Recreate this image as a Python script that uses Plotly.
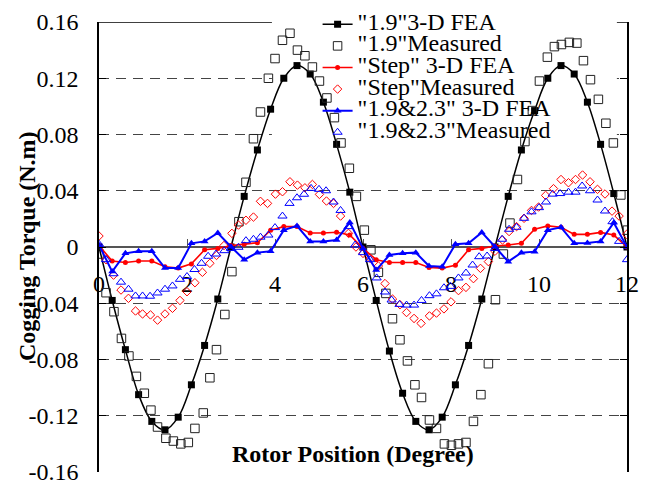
import plotly.graph_objects as go

# ---------------- data ----------------
x_fea = [0.0, 0.3, 0.6, 0.9, 1.2, 1.5, 1.8, 2.1, 2.4, 2.7,
         3.0, 3.3, 3.6, 3.9, 4.2, 4.5, 4.8, 5.1, 5.4, 5.7,
         6.0, 6.3, 6.6, 6.9, 7.2, 7.5, 7.8, 8.1, 8.4, 8.7,
         9.0, 9.3, 9.6, 9.9, 10.2, 10.5, 10.8, 11.1, 11.4, 11.7, 12.0]

fea_19 = [0.0, -0.038, -0.073, -0.105, -0.124, -0.130, -0.121, -0.098, -0.070, -0.037,
          0.0, 0.036, 0.069, 0.098, 0.120, 0.129, 0.123, 0.103, 0.073, 0.039,
          0.0, -0.038, -0.074, -0.104, -0.124, -0.130, -0.121, -0.098, -0.070, -0.037,
          0.0, 0.036, 0.069, 0.097, 0.120, 0.129, 0.123, 0.103, 0.073, 0.038, 0.0]

fea_step = [0.001, -0.010, -0.011, -0.010, -0.010, -0.014, -0.015, -0.012, -0.002, -0.001,
            0.001, 0.002, 0.003, 0.012, 0.0145, 0.0145, 0.010, 0.010, 0.0105, 0.0085,
            -0.001, -0.009, -0.011, -0.011, -0.011, -0.0145, -0.015, -0.013, -0.002, -0.001,
            0.0007, 0.0014, 0.0026, 0.0126, 0.015, 0.014, 0.009, 0.009, 0.0104, 0.0085, 0.0]

fea_1923 = [0.0014, -0.0175, -0.0045, -0.003, -0.003, -0.015, -0.015, 0.0026, 0.004, 0.010,
            0.0002, -0.009, -0.004, -0.003, 0.012, 0.015, 0.004, 0.004, 0.005, 0.0175,
            -0.001, -0.0164, -0.0057, -0.0045, -0.004, -0.0135, -0.014, 0.002, 0.0026, 0.0104,
            0.0002, -0.0104, -0.004, -0.0033, 0.012, 0.014, 0.0026, 0.0028, 0.004, 0.0173, 0.0]

x_meas_19 = [0.0, 0.16, 0.34, 0.51, 0.68, 0.85, 1.03, 1.18, 1.33, 1.52,
             1.69, 1.86, 2.03, 2.18, 2.37, 2.52, 2.67, 2.86, 3.02, 3.18,
             3.34, 3.51, 3.67, 3.85, 4.0, 4.17, 4.34, 4.51, 4.68, 4.85,
             5.01, 5.18, 5.35, 5.5, 5.69, 5.85, 6.03, 6.18, 6.35, 6.52,
             6.67, 6.84, 7.01, 7.18, 7.33, 7.51, 7.67, 7.85, 8.01, 8.17,
             8.34, 8.51, 8.68, 8.85, 9.01, 9.19, 9.34, 9.51, 9.68, 9.85,
             10.01, 10.19, 10.35, 10.51, 10.69, 10.86, 11.01, 11.17, 11.35, 11.52,
             11.69, 11.86, 12.01]
meas_19 = [-0.005, -0.0325, -0.046, -0.065, -0.0775, -0.092, -0.104, -0.116, -0.128, -0.136,
           -0.138, -0.140, -0.139, -0.129, -0.118, -0.093, -0.073, -0.048, -0.0175, 0.018,
           0.046, 0.077, 0.096, 0.120, 0.134, 0.147, 0.152, 0.140, 0.136, 0.128,
           0.118, 0.106, 0.092, 0.074, 0.056, 0.036, 0.012, -0.002, -0.018, -0.033,
           -0.051, -0.066, -0.081, -0.098, -0.107, -0.123, -0.129, -0.140, -0.141, -0.140,
           -0.139, -0.124, -0.105, -0.083, -0.0375, -0.005, 0.017, 0.048, 0.075, 0.097,
           0.118, 0.135, 0.1425, 0.144, 0.1455, 0.145, 0.1325, 0.119, 0.105, 0.088,
           0.074, 0.037, 0.012]

x_meas_step = [0.0, 0.16, 0.33, 0.5, 0.67, 0.83, 0.99, 1.17, 1.33, 1.5,
               1.67, 1.84, 2.0, 2.18, 2.35, 2.52, 2.67, 2.84, 3.02, 3.17,
               3.34, 3.51, 3.67, 3.83, 4.01, 4.17, 4.34, 4.51, 4.68, 4.85,
               5.01, 5.17, 5.33, 5.49, 5.67, 5.84, 6.0, 6.16, 6.35, 6.5,
               6.67, 6.84, 6.99, 7.16, 7.32, 7.51, 7.67, 7.84, 8.0, 8.17,
               8.34, 8.51, 8.67, 8.85, 9.0, 9.17, 9.32, 9.49, 9.66, 9.83,
               9.99, 10.15, 10.33, 10.5, 10.67, 10.83, 10.99, 11.16, 11.33, 11.5,
               11.66, 11.82, 11.99]
meas_step = [0.0078, -0.009, -0.020, -0.0306, -0.0365, -0.0455, -0.0476, -0.0483, -0.052, -0.0476,
             -0.0436, -0.038, -0.0318, -0.0254, -0.018, -0.0116, -0.006, 0.001, 0.0097, 0.0156,
             0.019, 0.0213, 0.0325, 0.031, 0.0376, 0.0393, 0.0464, 0.044, 0.0421, 0.0445,
             0.0374, 0.0327, 0.031, 0.022, 0.0097, 0.0, -0.0045, -0.008, -0.0135, -0.026,
             -0.037, -0.041, -0.0466, -0.0508, -0.0543, -0.049, -0.047, -0.044, -0.039, -0.031,
             -0.0287, -0.0225, -0.0152, -0.0104, -0.003, 0.005, 0.011, 0.0145, 0.0204, 0.026,
             0.0284, 0.0367, 0.0415, 0.048, 0.0457, 0.048, 0.0512, 0.0464, 0.041, 0.0377,
             0.0255, 0.022, 0.009]

x_meas_1923 = [0.0, 0.16, 0.33, 0.5, 0.67, 0.83, 0.99, 1.16, 1.33, 1.5,
               1.67, 1.84, 2.0, 2.17, 2.33, 2.48, 2.66, 2.85, 3.0, 3.17,
               3.34, 3.51, 3.67, 3.85, 4.0, 4.17, 4.33, 4.5, 4.66, 4.82,
               5.0, 5.16, 5.33, 5.49, 5.67, 5.82, 6.0, 6.16, 6.31, 6.5,
               6.65, 6.83, 6.99, 7.16, 7.33, 7.51, 7.67, 7.84, 7.99, 8.17,
               8.34, 8.49, 8.64, 8.82, 9.0, 9.16, 9.32, 9.49, 9.66, 9.83,
               10.0, 10.16, 10.31, 10.48, 10.67, 10.83, 10.98, 11.16, 11.33, 11.5,
               11.67, 11.82, 12.0]
meas_1923 = [0.002, -0.009, -0.019, -0.025, -0.030, -0.0348, -0.0348, -0.035, -0.0327, -0.030,
             -0.0277, -0.023, -0.021, -0.016, -0.0116, -0.0066, -0.005, -0.0026, -0.001, -0.0002,
             0.0045, 0.0055, 0.007, 0.0085, 0.0138, 0.022, 0.031, 0.035, 0.0375, 0.0417,
             0.041, 0.040, 0.032, 0.026, 0.0145, 0.0014, -0.004, -0.009, -0.022, -0.032,
             -0.0377, -0.0408, -0.0413, -0.0413, -0.038, -0.0346, -0.0333, -0.029, -0.028, -0.022,
             -0.0185, -0.0128, -0.0069, -0.0064, -0.001, 0.0055, 0.0126, 0.014, 0.0204, 0.025,
             0.028, 0.032, 0.0376, 0.038, 0.039, 0.039, 0.0434, 0.040, 0.0334, 0.0256,
             0.018, 0.004, -0.009]

names = ['"1.9"3-D FEA', '"1.9"Measured', '"Step" 3-D FEA',
         '"Step"Measured', '"1.9&2.3" 3-D FEA', '"1.9&2.3"Measured']

y_ticks = [-0.16, -0.12, -0.08, -0.04, 0, 0.04, 0.08, 0.12, 0.16]
y_tick_text = ['-0.16', '-0.12', '-0.08', '-0.04', '0', '0.04', '0.08', '0.12', '0.16']
x_ticks = [0, 2, 4, 6, 8, 10, 12]

FONT = "Liberation Serif"
FS = 24


def lname(s):
    return '<span style="font-size:%dpx">' % FS + s + '</span>'


fig = go.Figure()
fig.add_trace(go.Scatter(x=x_fea, y=fea_19, mode='lines+markers', name=lname(names[0]),
                         line=dict(color='black', width=1.5, shape='spline'),
                         marker=dict(symbol='square', size=7, color='black')))
fig.add_trace(go.Scatter(x=x_meas_19, y=meas_19, mode='markers', name=lname(names[1]),
                         marker=dict(symbol='square-open', size=8.5, color='#222',
                                     line=dict(width=1))))
fig.add_trace(go.Scatter(x=x_fea, y=fea_step, mode='lines+markers', name=lname(names[2]),
                         line=dict(color='#ff0000', width=1.6),
                         marker=dict(symbol='circle', size=5, color='#ff0000')))
fig.add_trace(go.Scatter(x=x_meas_step, y=meas_step, mode='markers', name=lname(names[3]),
                         marker=dict(symbol='diamond-open', size=6.5, color='#ff0000',
                                     line=dict(width=1))))
fig.add_trace(go.Scatter(x=x_fea, y=fea_1923, mode='lines+markers', name=lname(names[4]),
                         line=dict(color='#0000ff', width=2),
                         marker=dict(symbol='triangle-up', size=7, color='#0000ff')))
fig.add_trace(go.Scatter(x=x_meas_1923, y=meas_1923, mode='markers', name=lname(names[5]),
                         marker=dict(symbol='triangle-up-open', size=8, color='#0000ff',
                                     line=dict(width=1))))

# white area behind the legend (hides gridlines, under the data)
fig.add_shape(type='rect', xref='x', yref='y', x0=3.93, x1=11.77, y0=0.07, y1=0.17,
              fillcolor='white', line=dict(width=0), layer='between')
# top frame segments
for xa, xb in [(0, 3.93), (11.77, 12)]:
    fig.add_shape(type='line', xref='x', yref='y', x0=xa, x1=xb, y0=0.16, y1=0.16,
                  line=dict(color='black', width=1.5), layer='between')

fig.update_layout(
    width=646, height=484,
    margin=dict(l=99, r=19, t=22, b=12, autoexpand=False),
    paper_bgcolor='white', plot_bgcolor='white',
    font=dict(family=FONT, size=FS, color='black'),
    showlegend=True,
    legend=dict(x=0.414, y=1.03, xanchor='left', yanchor='top',
                bgcolor='rgba(0,0,0,0)', borderwidth=0,
                font=dict(family=FONT, size=14.3, color='black')),
    xaxis=dict(range=[0, 12], tickvals=x_ticks, anchor='free', position=0.5,
               showline=True, linecolor='#555', linewidth=1.5,
               ticks='inside', ticklen=7, tickcolor='#555',
               showgrid=False, zeroline=False, ticklabelstandoff=15,
               ticklabeloverflow='allow',
               tickfont=dict(family=FONT, size=FS), layer='below traces'),
    yaxis=dict(range=[-0.16, 0.16], tickvals=y_ticks, ticktext=y_tick_text,
               showline=True, linecolor='black', linewidth=1.5, mirror='ticks',
               ticks='inside', ticklen=7, tickcolor='black',
               showgrid=True, gridcolor='#444', griddash='10px,7px', gridwidth=1,
               zeroline=False, ticklabelstandoff=14, ticklabeloverflow='allow',
               tickfont=dict(family=FONT, size=FS)),
    annotations=[
        dict(text='<b>Rotor Position (Degree)</b>', xref='paper', yref='paper',
             x=(353 - 99) / 528, y=(472 - 454) / 450, xanchor='center', yanchor='middle',
             showarrow=False, font=dict(family=FONT, size=FS)),
        dict(text='<b>Cogging Torque (N.m)</b>', xref='paper', yref='paper',
             x=(27 - 99) / 528, y=(472 - 246) / 450, xanchor='center', yanchor='middle',
             textangle=-90, showarrow=False, font=dict(family=FONT, size=FS)),
    ],
)

fig.write_html("out.html")
